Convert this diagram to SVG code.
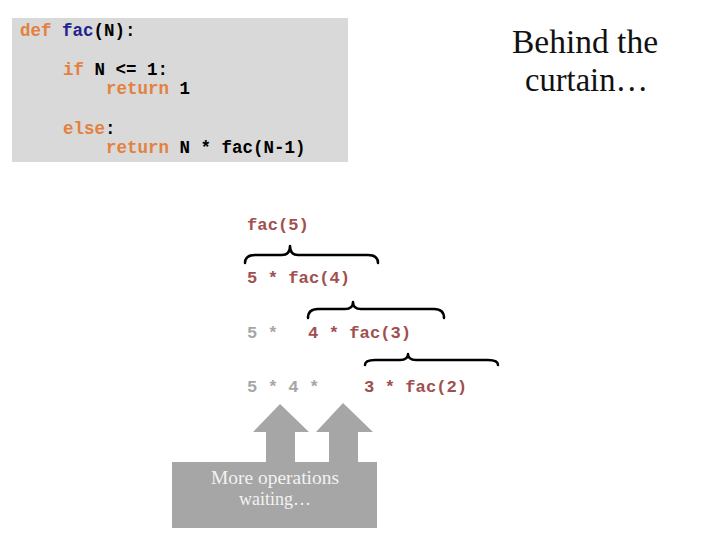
<svg xmlns="http://www.w3.org/2000/svg" width="720" height="540" viewBox="0 0 720 540" xml:space="preserve">
<style>
.code{font-family:"Liberation Mono","Courier New",monospace;font-weight:bold;font-size:17.5px;fill:#000}
.kw{fill:#e3813f}
.fn{fill:#23238e}
.ev{font-family:"Liberation Mono","Courier New",monospace;font-weight:bold;font-size:17.2px;fill:#a0504e}
.gr{fill:#a6a6a6}
.brace{fill:none;stroke:#000;stroke-width:2.5;stroke-linecap:round;stroke-linejoin:round}
.serif{font-family:"Liberation Serif","DejaVu Serif",serif}
</style>
<rect width="720" height="540" fill="#fff"/>
<g id="code">
<rect x="12" y="18" width="336" height="144" fill="#d9d9d9"/>
<text class="code" x="20" y="36"><tspan class="kw">def</tspan> <tspan class="fn">fac</tspan>(N):</text>
<text class="code" x="63" y="74.5"><tspan class="kw">if</tspan> N &lt;= 1:</text>
<text class="code" x="106" y="94"><tspan class="kw">return</tspan> 1</text>
<text class="code" x="63" y="133.5"><tspan class="kw">else</tspan>:</text>
<text class="code" x="106" y="152.5"><tspan class="kw">return</tspan> N * fac(N-1)</text>
</g>
<g id="title">
<text class="serif" x="512" y="53" font-size="33" textLength="146" lengthAdjust="spacingAndGlyphs" fill="#111">Behind the</text>
<text class="serif" x="525" y="91" font-size="33" textLength="123" lengthAdjust="spacingAndGlyphs" fill="#111">curtain…</text>
</g>
<g id="eval">
<text class="ev" x="247" y="229.5">fac(5)</text>
<text class="ev" x="247" y="283">5 * fac(4)</text>
<text class="ev gr" x="247" y="337.5">5 *</text>
<text class="ev" x="308" y="337.5">4 * fac(3)</text>
<text class="ev gr" x="247" y="391.5">5 * 4 *</text>
<text class="ev" x="364" y="391.5">3 * fac(2)</text>
</g>
<g id="connectors">
<path class="brace" d="M245,263 Q245,255 255,255 L282,255 Q290,255 290,246 Q290,255 298,255 L368,255 Q378,255 378,263"/>
<path class="brace" d="M308,318 Q308,309 318,309 L345,309 Q353,309 353,302 Q353,309 361,309 L434,309 Q444,309 444,318"/>
<path class="brace" d="M365,365 Q365,360 375,360 L400,360 Q408,360 408,354 Q408,360 416,360 L488,360 Q498,360 498,365"/>
</g>
<g id="waiting">
<polygon points="266,462 266,432 253,432 280,404 309,432 295,432 295,462" fill="#a6a6a6"/>
<polygon points="329,462 329,432 316,432 343,403 373,432 358,432 358,462" fill="#a6a6a6"/>
<rect x="172" y="462" width="205" height="66" fill="#a6a6a6"/>
<text class="serif" x="211" y="484" font-size="18" textLength="128" lengthAdjust="spacingAndGlyphs" fill="#f2f2f2">More operations</text>
<text class="serif" x="239" y="505" font-size="18" textLength="72" lengthAdjust="spacingAndGlyphs" fill="#f2f2f2">waiting…</text>
</g>
</svg>
